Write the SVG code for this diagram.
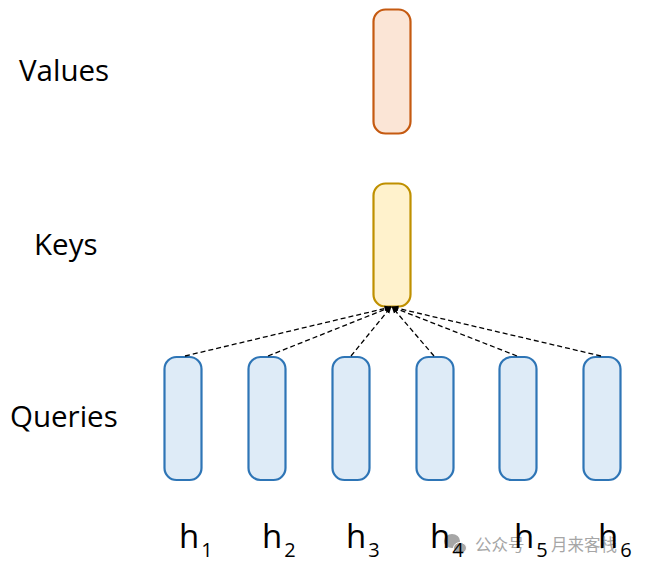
<svg xmlns="http://www.w3.org/2000/svg" width="647" height="571" viewBox="0 0 647 571">
<defs>
<style>
.lbl{font-family:"Open Sans","Liberation Sans",sans-serif;font-size:29.5px;fill:#000}
.h{font-family:"Open Sans","Liberation Sans",sans-serif;font-size:33px;fill:#000}
.sub{font-size:20px}
.q{fill:#DEEBF7;stroke:#2E75B6;stroke-width:2.2}
.conn{stroke:#000;stroke-width:1.3;stroke-dasharray:5,3;fill:none;marker-end:url(#ah)}
.wm{font-family:"Noto Sans CJK SC",sans-serif;font-size:16.5px;fill:#A6A6A6}
</style>
<marker id="ah" viewBox="0 0 10 10" refX="9" refY="5" markerWidth="7" markerHeight="7" orient="auto" markerUnits="userSpaceOnUse">
<path d="M0,1 L10,5 L0,9 z" fill="#000"/>
</marker>
</defs>
<rect width="647" height="571" fill="#fff"/>
<text class="lbl" x="19" y="81">Values</text>
<text class="lbl" x="34" y="255">Keys</text>
<text class="lbl" x="10" y="427">Queries</text>
<g id="values"><rect x="373.5" y="9.5" width="37" height="124" rx="12" fill="#FBE5D6" stroke="#C55A11" stroke-width="2.2"/></g>
<g id="keys"><rect x="373.5" y="183.5" width="37" height="123" rx="12" fill="#FFF2CC" stroke="#BF9000" stroke-width="2.2"/></g>
<g id="q1"><rect class="q" x="164.5" y="357" width="37" height="123" rx="12"/></g>
<g id="q2"><rect class="q" x="248.5" y="357" width="37" height="123" rx="12"/></g>
<g id="q3"><rect class="q" x="332.5" y="357" width="37" height="123" rx="12"/></g>
<g id="q4"><rect class="q" x="416.5" y="357" width="37" height="123" rx="12"/></g>
<g id="q5"><rect class="q" x="499.5" y="357" width="37" height="123" rx="12"/></g>
<g id="q6"><rect class="q" x="583.5" y="357" width="37" height="123" rx="12"/></g>
<g id="connectors">
<line class="conn" x1="185" y1="356" x2="391" y2="307"/>
<line class="conn" x1="268" y1="356" x2="391" y2="307"/>
<line class="conn" x1="351" y1="356" x2="391" y2="307"/>
<line class="conn" x1="434" y1="356" x2="392" y2="307"/>
<line class="conn" x1="517" y1="356" x2="392" y2="307"/>
<line class="conn" x1="601" y1="356" x2="392" y2="307"/>
</g>
<g id="watermark">
<ellipse cx="452" cy="541" rx="8" ry="7" fill="#A6A6A6"/>
<ellipse cx="460" cy="548" rx="6.5" ry="5.5" fill="#A6A6A6" stroke="#fff" stroke-width="1"/>
<text class="wm" x="475" y="551">公众号</text>
<text class="wm" x="551" y="551">月来客栈</text>
</g>
<g id="labels">
<text class="h" x="179" y="548">h<tspan class="sub" dx="2" dy="9">1</tspan></text>
<text class="h" x="262" y="548">h<tspan class="sub" dx="2" dy="9">2</tspan></text>
<text class="h" x="346" y="548">h<tspan class="sub" dx="2" dy="9">3</tspan></text>
<text class="h" x="430" y="548">h<tspan class="sub" dx="2" dy="9">4</tspan></text>
<text class="h" x="514" y="548">h<tspan class="sub" dx="2" dy="9">5</tspan></text>
<text class="h" x="598" y="548">h<tspan class="sub" dx="2" dy="9">6</tspan></text>
</g>
</svg>
